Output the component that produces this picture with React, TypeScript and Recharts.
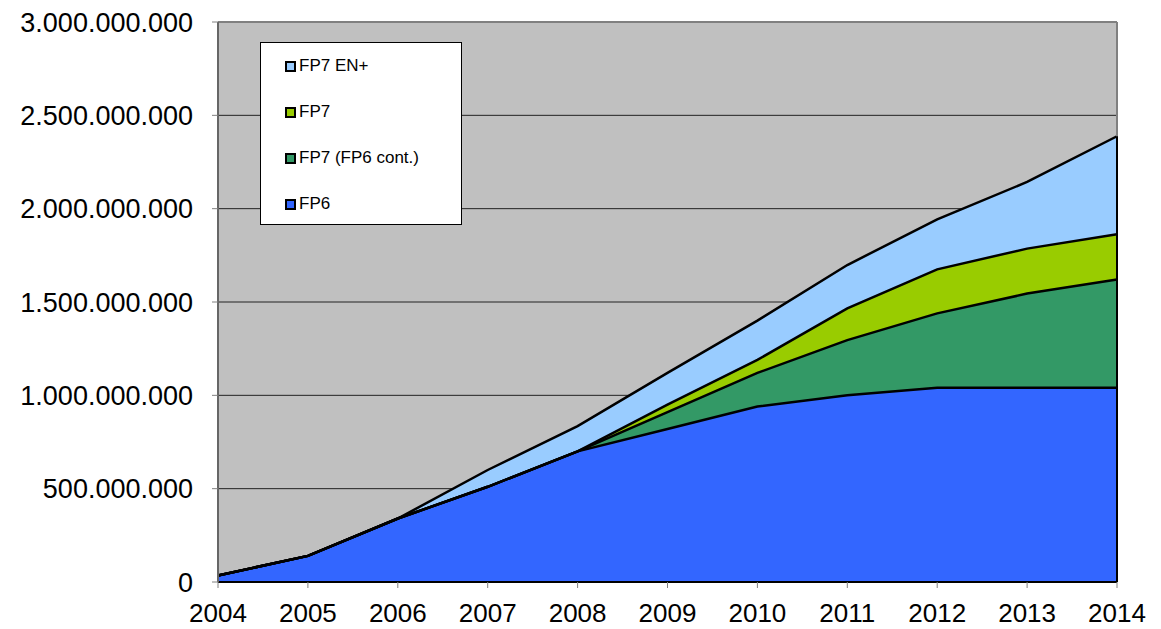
import { AreaChart, Area, XAxis, YAxis, CartesianGrid, ReferenceLine } from 'recharts'

// values in millions of euro
const years = [2004, 2005, 2006, 2007, 2008, 2009, 2010, 2011, 2012, 2013, 2014]
const fp6 = [35, 140, 340, 510, 700, 820, 940, 1000, 1040, 1040, 1040]
const fp6Cont = [0, 0, 0, 0, 0, 90, 180, 296, 399, 505, 580]
const fp7 = [0, 0, 0, 0, 0, 40, 70, 170, 236, 241, 243]
const fp7EnPlus = [0, 0, 0, 90, 135, 170, 210, 232, 268, 357, 525]
const yTicks = [0, 500, 1000, 1500, 2000, 2500, 3000]

const series = [
  { key: 'fp6', name: 'FP6', color: '#3366FF', values: fp6 },
  { key: 'fp6Cont', name: 'FP7 (FP6 cont.)', color: '#339966', values: fp6Cont },
  { key: 'fp7', name: 'FP7', color: '#99CC00', values: fp7 },
  { key: 'fp7EnPlus', name: 'FP7 EN+', color: '#99CCFF', values: fp7EnPlus },
]

const data = years.map((year, i) => {
  const row: Record<string, number> = { year }
  series.forEach((s) => { row[s.key] = s.values[i] })
  return row
})

const last = years.length - 1
const lastTotal = series.reduce((sum, s) => sum + s.values[last], 0)

const FONT = '"Liberation Sans", Arial, sans-serif'

// 1500 -> "1.500.000.000"
const fmt = (v: number) => String(v * 1e6).replace(/\B(?=(\d{3})+(?!\d))/g, '.')

function LegendBox() {
  return (
    <div style={{ position: 'absolute', left: 260, top: 42, width: 200, height: 181, background: '#fff', border: '1px solid #000', fontFamily: FONT, fontSize: 17 }}>
      {[...series].reverse().map((s, i) => (
        <div key={s.key} style={{ position: 'absolute', left: 24, top: 13 + i * 46, display: 'flex', alignItems: 'center', height: 20 }}>
          <span style={{ width: 7, height: 7, background: s.color, border: '2px solid #000', marginRight: 3, display: 'inline-block' }} />
          <span>{s.name}</span>
        </div>
      ))}
    </div>
  )
}

export default function App() {
  return (
    <div style={{ position: 'absolute', left: 0, top: 0, width: 1161, height: 629, background: '#fff' }}>
      <AreaChart width={1161} height={629} data={data} margin={{ top: 22, right: 44, bottom: 0, left: 0 }}>
        <CartesianGrid vertical={false} fill="#C0C0C0" stroke="#222" strokeWidth={1} />
        <XAxis
          dataKey="year"
          type="number"
          domain={[2004, 2014]}
          ticks={years}
          interval={0}
          height={47}
          tick={{ fontSize: 26, fontFamily: FONT, fill: '#000' }}
          tickSize={6}
          tickMargin={16}
          axisLine={{ stroke: '#000', strokeWidth: 2 }}
          tickLine={{ stroke: '#808080' }}
        />
        <YAxis
          width={218}
          domain={[0, 3000]}
          ticks={yTicks}
          interval={0}
          tickFormatter={fmt}
          tick={{ fontSize: 27, fontFamily: FONT, fill: '#000' }}
          tickSize={6}
          tickMargin={19}
          axisLine={{ stroke: '#666', strokeWidth: 2 }}
          tickLine={{ stroke: '#808080' }}
        />
        <ReferenceLine y={3000} stroke="#808080" strokeWidth={2} />
        <ReferenceLine x={2014} stroke="#808080" strokeWidth={2} />
        {series.map((s) => (
          <Area
            key={s.key}
            type="linear"
            dataKey={s.key}
            name={s.name}
            stackId="fill"
            stroke="none"
            fill={s.color}
            fillOpacity={1}
            isAnimationActive={false}
          />
        ))}
        {series.map((s) => (
          <Area
            key={`${s.key}-edge`}
            type="linear"
            dataKey={s.key}
            stackId="edge"
            stroke="#000"
            strokeWidth={2.5}
            fill="none"
            fillOpacity={0}
            isAnimationActive={false}
            legendType="none"
          />
        ))}
        <ReferenceLine segment={[{ x: 2014, y: 0 }, { x: 2014, y: lastTotal }]} stroke="#000" strokeWidth={2} />
      </AreaChart>
      <LegendBox />
    </div>
  )
}
